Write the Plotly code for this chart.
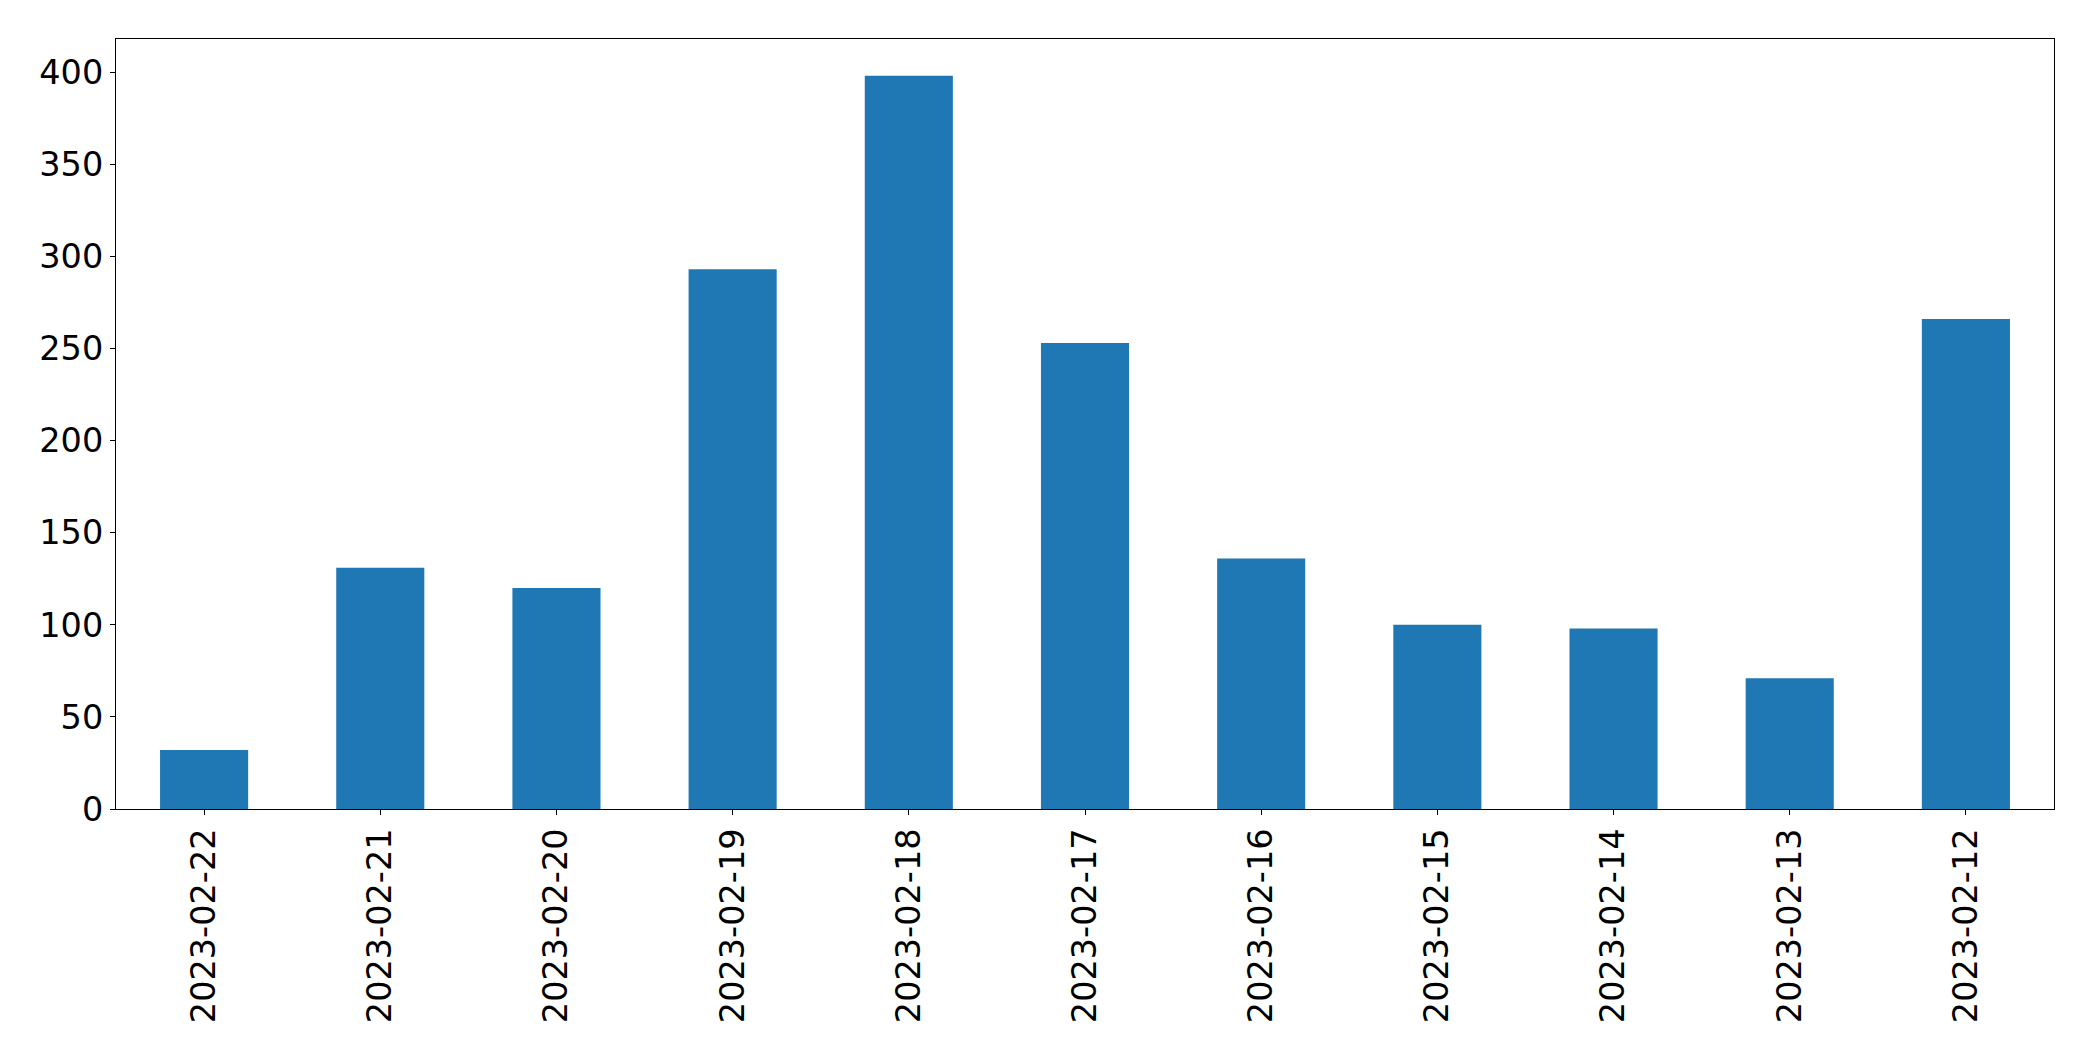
import plotly.graph_objects as go

dates = ["2023-02-22", "2023-02-21", "2023-02-20", "2023-02-19", "2023-02-18",
         "2023-02-17", "2023-02-16", "2023-02-15", "2023-02-14", "2023-02-13",
         "2023-02-12"]
counts = [32, 131, 120, 293, 398, 253, 136, 100, 98, 71, 266]
y_ticks = [0, 50, 100, 150, 200, 250, 300, 350, 400]

fig = go.Figure(go.Bar(x=dates, y=counts, marker=dict(color="#1f77b4", line=dict(width=0))))

# page body has an 8px margin; size the figure so the page fills 2093x1061
fig.update_layout(
    width=2077, height=1045,
    margin=dict(l=108, r=31, t=31, b=244, pad=0),
    paper_bgcolor="white", plot_bgcolor="white",
    bargap=0.5, showlegend=False,
    font=dict(family="DejaVu Sans", size=33.5, color="black"),
)
fig.update_xaxes(
    type="category", range=[-0.5, 10.5], tickangle=-90,
    showline=True, linecolor="black", linewidth=1.1, mirror=True,
    ticks="outside", ticklen=5, tickcolor="black", tickwidth=1.1,
    showgrid=False, zeroline=False, ticklabelstandoff=0,
)
fig.update_yaxes(
    range=[0, 418], tickvals=y_ticks,
    showline=True, linecolor="black", linewidth=1.1, mirror=True,
    ticks="outside", ticklen=5, tickcolor="black", tickwidth=1.1,
    showgrid=False, zeroline=False, ticklabelstandoff=0,
)
fig.write_html("out.html")
